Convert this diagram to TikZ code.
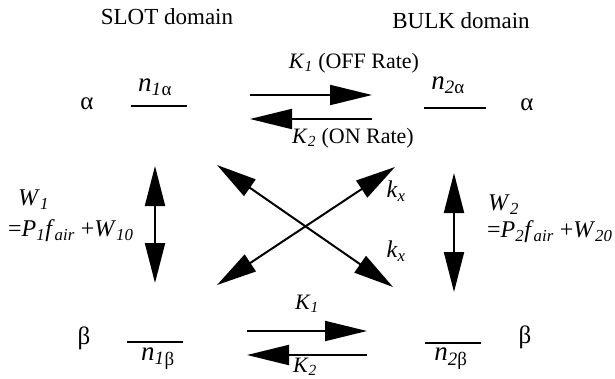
\documentclass[tikz,border=0pt]{standalone}
\usepackage{fontspec}
\setmainfont{Liberation Serif}
\usetikzlibrary{arrows.meta}
\newcommand{\sbi}[1]{\textsubscript{\itshape #1}}
\begin{document}
\begin{tikzpicture}[x=1pt,y=-1pt,
  lbl/.style={inner sep=0pt, font=\fontsize{22}{26}\selectfont},
  eqn/.style={inner sep=0pt, font=\fontsize{24}{28}\selectfont},
  lev/.style={inner sep=0pt, font=\fontsize{27}{30}\selectfont},
  grk/.style={inner sep=0pt, font=\fontsize{25}{28}\selectfont},
  big/.style={inner sep=0pt, font=\fontsize{23}{27}\selectfont},
  lvl/.style={line width=2.6pt},
  arr/.style={line width=2pt, -{Triangle[length=42pt,width=20pt]}},
  darr/.style={line width=2pt, {Triangle[length=40pt,width=20pt]}-{Triangle[length=40pt,width=20pt]}}]
\useasboundingbox (0,0) rectangle (615,378);

\node[big] (slot) at (167,17) {SLOT domain};
\node[big] (bulk) at (461,21) {BULK domain};

% alpha level
\node[grk] (al) at (87,104) {α};
\node[grk] (ar) at (527,105) {α};
\node[lev] (n1a) at (155,87) {\textit{n}\sbi{1}\textsubscript{α}};
\node[lev] (n2a) at (448,85) {\textit{n}\textsubscript{\textit{2}α}};
\coordinate (n1aL) at (131,106); \coordinate (n1aR) at (187,106);
\coordinate (n2aL) at (424,108); \coordinate (n2aR) at (486,108);
\draw[lvl] (n1aL) -- (n1aR);
\draw[lvl] (n2aL) -- (n2aR);

\node[lbl] (k1t) at (354,63) {\textit{K}\sbi{1} (OFF Rate)};
\node[lbl] (k2t) at (353,138) {\textit{K}\sbi{2} (ON Rate)};
\coordinate (ta1) at (250,95); \coordinate (ta2) at (372,95);
\coordinate (tb1) at (372,119); \coordinate (tb2) at (250,119);
\draw[arr] (ta1) -- (ta2);
\draw[arr] (tb1) -- (tb2);

% vertical transitions
\coordinate (lv1) at (155,166); \coordinate (lv2) at (155,283);
\coordinate (rv1) at (454,173); \coordinate (rv2) at (454,292);
\draw[darr] (lv1) -- (lv2);
\draw[darr] (rv1) -- (rv2);
\node[eqn, anchor=west] (w1) at (18,200) {\textit{W}\sbi{1}};
\node[eqn, anchor=west] (e1) at (8,231) {=\textit{P}\sbi{1}\textit{f}\sbi{air} +\textit{W}\sbi{10}};
\node[eqn, anchor=west] (w2) at (488,205) {\textit{W}\sbi{2}};
\node[eqn, anchor=west] (e2) at (487,232) {=\textit{P}\sbi{2}\textit{f}\sbi{air} +\textit{W}\sbi{20}};

% cross transitions
\coordinate (x1) at (217,165); \coordinate (x2) at (393,287);
\coordinate (x3) at (395,167); \coordinate (x4) at (217,285);
\draw[darr] (x1) -- (x2);
\draw[darr] (x3) -- (x4);
\node[eqn] (kx1) at (396,191) {\textit{k}\sbi{x}};
\node[eqn] (kx2) at (396,251) {\textit{k}\sbi{x}};

% beta level
\node[grk] (bl) at (84,338) {β};
\node[grk] (br) at (525,337) {β};
\coordinate (n1bL) at (127,342); \coordinate (n1bR) at (183,342);
\coordinate (n2bL) at (425,343); \coordinate (n2bR) at (481,343);
\draw[lvl] (n1bL) -- (n1bR);
\draw[lvl] (n2bL) -- (n2bR);
\node[lev] (n1b) at (158,359) {\textit{n}\sbi{1}\textsubscript{β}};
\node[lev] (n2b) at (451,359) {\textit{n}\textsubscript{\textit{2}β}};

\node[lbl] (k1b) at (307,304) {\textit{K}\sbi{1}};
\node[lbl] (k2b) at (305,367) {\textit{K}\sbi{2}};
\coordinate (ba1) at (247,331); \coordinate (ba2) at (367,331);
\coordinate (bb1) at (367,355); \coordinate (bb2) at (247,355);
\draw[arr] (ba1) -- (ba2);
\draw[arr] (bb1) -- (bb2);
\end{tikzpicture}
\end{document}
